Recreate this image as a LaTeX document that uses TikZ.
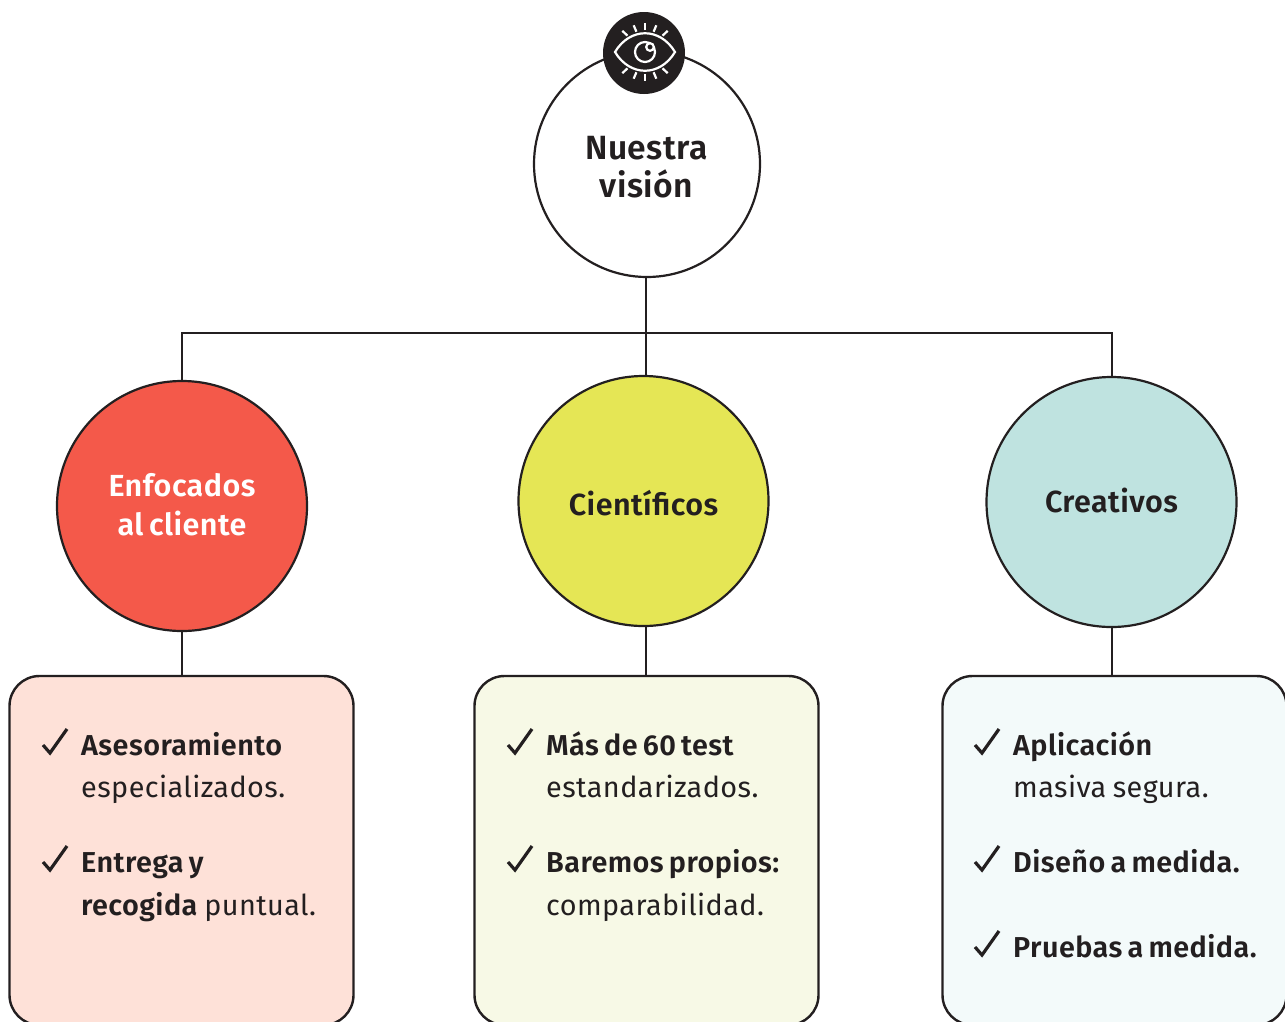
\documentclass[tikz,border=0pt]{standalone}
\usepackage{fontspec}
\setmainfont{Fira Sans}[BoldFont={Fira Sans SemiBold},LetterSpace=1.5,WordSpace=0.8,BoldFeatures={WordSpace=0.7}]
\usetikzlibrary{positioning}
\definecolor{inkdark}{HTML}{231F20}
\definecolor{redfill}{HTML}{F4594A}
\definecolor{yellowfill}{HTML}{E5E655}
\definecolor{tealfill}{HTML}{BFE3E0}
\definecolor{redpale}{HTML}{FEE1D8}
\definecolor{yellowpale}{HTML}{F7F9E6}
\definecolor{tealpale}{HTML}{F3FAFA}
\tikzset{
    topic/.style={circle, draw=inkdark, line width=2.2pt, minimum size=250pt, inner sep=0pt},
    topictext/.style={align=center, inner sep=0pt, text=inkdark, font=\bfseries\fontsize{30.5}{39}\selectfont},
    listbox/.style={rectangle, rounded corners=30pt, draw=inkdark, line width=2.4pt, outer sep=0pt,
        minimum width=344pt, minimum height=349pt, anchor=north},
    link/.style={draw=inkdark, line width=2.2pt},
    itemline/.style={anchor=base west, inner sep=0pt, text=inkdark, font=\fontsize{28.8}{34}\selectfont},
    tick/.style={draw=inkdark, line width=3.2pt, line join=miter},
    eyeline/.style={draw=white, line width=2.2pt}
}
\newcommand{\checkat}[2]{\draw[tick] (#1-7,#2-8) -- (#1,#2) -- (#1+17,#2-24);}
\begin{document}
\begin{tikzpicture}[x=1pt,y=-1pt]
    \useasboundingbox (0,0) rectangle (1285,1021);
    \clip (0,0) rectangle (1285,1021);
    % circles
    \node[topic, minimum size=226pt, fill=white] (vision) at (647,164) {};
    \node[topic, fill=redfill] (enfocados) at (182,506) {};
    \node[topic, fill=yellowfill] (cientificos) at (643.5,501) {};
    \node[topic, fill=tealfill] (creativos) at (1111.5,502) {};
    \node[topictext, font=\bfseries\fontsize{33.6}{38}\selectfont] (visiontext) at (646.5,167) {Nuestra\\visión};
    \node[topictext, text=white] (enfocadostext) at (182,505) {Enfocados\\al cliente};
    \node[topictext] (cientificostext) at (643.5,503) {Científ{}icos};
    \node[topictext] (creativostext) at (1111.5,500) {Creativos};
    % boxes
    \node[listbox, fill=redpale] (boxred) at (181.5,676) {};
    \node[listbox, fill=yellowpale] (boxyellow) at (646.5,676) {};
    \node[listbox, fill=tealpale] (boxteal) at (1114.5,676) {};
    % links
    \coordinate (busleft) at (182,333);
    \coordinate (busright) at (1112,333);
    \coordinate (busmid) at (646,333);
    \draw[link] (enfocados.north) -- (busleft) -- (busright) -- (busright |- creativos.north);
    \draw[link] (vision.south -| busmid) -- (busmid) -- (busmid |- cientificos.north);
    \draw[link] (enfocados.south) -- (enfocados.south |- boxred.north);
    \draw[link] (busmid |- cientificos.south) -- (busmid |- boxyellow.north);
    \draw[link] (busright |- creativos.south) -- (busright |- boxteal.north);
    % eye badge
    \node[circle, fill=inkdark, minimum size=82pt, inner sep=0pt] (badge) at (644,53) {};
    \draw[eyeline] (615,52) .. controls (630,27) and (660,27) .. (675,52)
        .. controls (660,77) and (630,77) .. cycle;
    \draw[eyeline] (645,52) circle (10);
    \draw[eyeline, fill=inkdark] (650,47) circle (3.8);
    \foreach \ang/\rin in {43/24,67/22,90/22,113/22,137/24} {
        \draw[eyeline] (645,52) ++(\ang:\rin) -- ++(\ang:7);
        \draw[eyeline] (645,52) ++(-\ang:\rin) -- ++(-\ang:7);
    }
    % left list
    \checkat{50}{753}
    \node[itemline] (asesor) at (81,755) {\textbf{Asesoramiento}};
    \node[itemline] (especial) at (81,797) {especializados.};
    \checkat{50}{870}
    \node[itemline] (entrega) at (81,872) {\textbf{Entrega y}};
    \node[itemline] (recogida) at (81,915) {\textbf{recogida} puntual.};
    % middle list
    \checkat{515}{753}
    \node[itemline] (masde) at (546,755) {\textbf{Más de 60 test}};
    \node[itemline] (estandar) at (546,797) {estandarizados.};
    \checkat{515}{870}
    \node[itemline] (baremos) at (546,872) {\textbf{Baremos propios:}};
    \node[itemline] (compara) at (546,915) {comparabilidad.};
    % right list
    \checkat{982}{753}
    \node[itemline] (aplica) at (1013,755) {\textbf{Aplicación}};
    \node[itemline] (masiva) at (1013,797) {masiva segura.};
    \checkat{982}{870}
    \node[itemline] (diseno) at (1013,872) {\textbf{Diseño a medida.}};
    \checkat{982}{955}
    \node[itemline] (pruebas) at (1013,957) {\textbf{Pruebas a medida.}};
\end{tikzpicture}
\end{document}
